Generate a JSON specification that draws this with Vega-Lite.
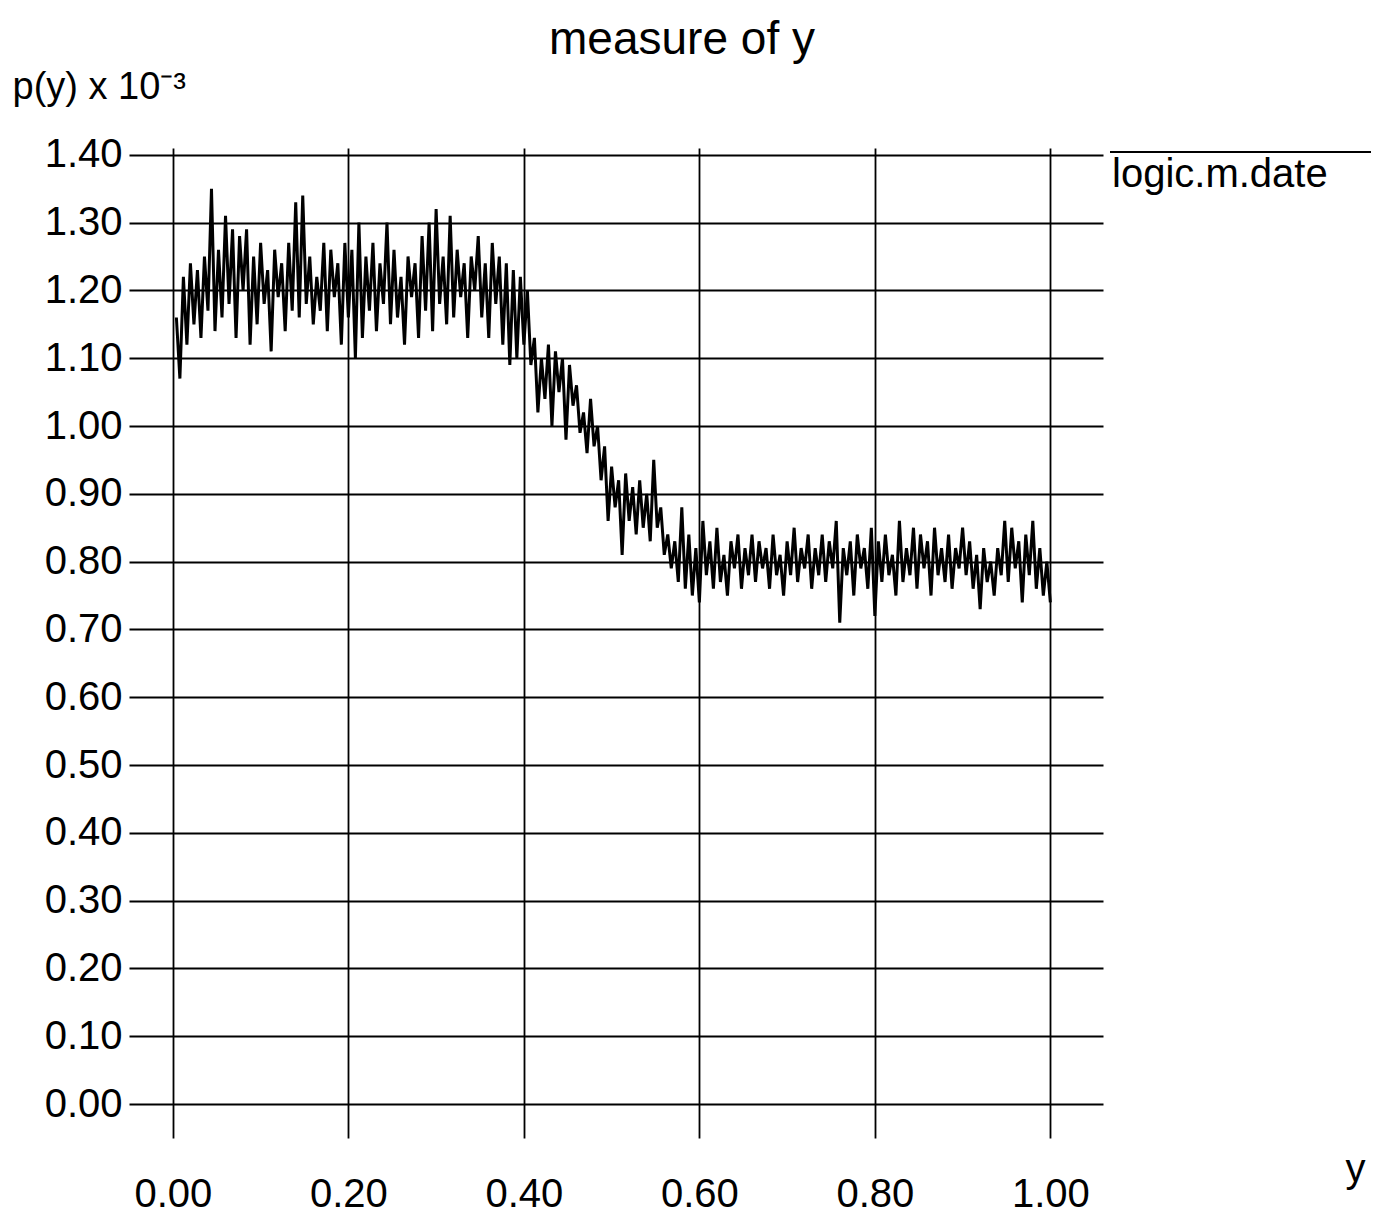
{
  "$schema": "https://vega.github.io/schema/vega-lite/v6.json",
  "autosize": {"type": "none"},
  "width": 974,
  "height": 990,
  "padding": {"left": 129, "top": 148, "right": 272, "bottom": 79},
  "background": "white",
  "config": {
    "font": "Liberation Sans",
    "view": {"stroke": null},
    "axis": {"grid": true, "gridColor": "black", "gridOpacity": 1, "gridWidth": 1.8, "domain": false, "ticks": false, "labelFont": "Liberation Sans", "labelFontSize": 40, "labelColor": "black", "titleFont": "Liberation Sans", "titleColor": "black", "titleFontWeight": "normal", "labelFlush": false, "labelOverlap": false}
  },
  "title": {"text": "measure of y", "fontSize": 46, "font": "Liberation Sans", "fontWeight": "normal", "color": "black", "anchor": "middle", "dx": 66, "dy": 42, "baseline": "alphabetic", "offset": 10},
  "data": {"values": [
    {"x":0.004,"p":1.16},{"x":0.008,"p":1.07},{"x":0.012,"p":1.22},{"x":0.016,"p":1.12},{"x":0.020,"p":1.24},{"x":0.024,"p":1.15},{"x":0.028,"p":1.23},{"x":0.032,"p":1.13},{"x":0.036,"p":1.25},{"x":0.040,"p":1.17},
    {"x":0.044,"p":1.35},{"x":0.048,"p":1.14},{"x":0.052,"p":1.26},{"x":0.056,"p":1.16},{"x":0.060,"p":1.31},{"x":0.064,"p":1.18},{"x":0.068,"p":1.29},{"x":0.072,"p":1.13},{"x":0.076,"p":1.28},{"x":0.080,"p":1.20},
    {"x":0.084,"p":1.29},{"x":0.088,"p":1.12},{"x":0.092,"p":1.25},{"x":0.096,"p":1.15},{"x":0.100,"p":1.27},{"x":0.104,"p":1.18},{"x":0.108,"p":1.23},{"x":0.112,"p":1.11},{"x":0.116,"p":1.26},{"x":0.120,"p":1.19},
    {"x":0.124,"p":1.24},{"x":0.128,"p":1.14},{"x":0.132,"p":1.27},{"x":0.136,"p":1.17},{"x":0.140,"p":1.33},{"x":0.144,"p":1.16},{"x":0.148,"p":1.34},{"x":0.152,"p":1.18},{"x":0.156,"p":1.25},{"x":0.160,"p":1.15},
    {"x":0.164,"p":1.22},{"x":0.168,"p":1.17},{"x":0.172,"p":1.27},{"x":0.176,"p":1.14},{"x":0.180,"p":1.26},{"x":0.184,"p":1.19},{"x":0.188,"p":1.24},{"x":0.192,"p":1.12},{"x":0.196,"p":1.27},{"x":0.200,"p":1.16},
    {"x":0.204,"p":1.26},{"x":0.208,"p":1.10},{"x":0.212,"p":1.30},{"x":0.216,"p":1.13},{"x":0.220,"p":1.25},{"x":0.224,"p":1.17},{"x":0.228,"p":1.27},{"x":0.232,"p":1.14},{"x":0.236,"p":1.24},{"x":0.240,"p":1.18},
    {"x":0.244,"p":1.30},{"x":0.248,"p":1.15},{"x":0.252,"p":1.26},{"x":0.256,"p":1.16},{"x":0.260,"p":1.22},{"x":0.264,"p":1.12},{"x":0.268,"p":1.25},{"x":0.272,"p":1.19},{"x":0.276,"p":1.24},{"x":0.280,"p":1.13},
    {"x":0.284,"p":1.28},{"x":0.288,"p":1.17},{"x":0.292,"p":1.30},{"x":0.296,"p":1.14},{"x":0.300,"p":1.32},{"x":0.304,"p":1.18},{"x":0.308,"p":1.25},{"x":0.312,"p":1.15},{"x":0.316,"p":1.31},{"x":0.320,"p":1.16},
    {"x":0.324,"p":1.26},{"x":0.328,"p":1.19},{"x":0.332,"p":1.24},{"x":0.336,"p":1.13},{"x":0.340,"p":1.25},{"x":0.344,"p":1.20},{"x":0.348,"p":1.28},{"x":0.352,"p":1.16},{"x":0.356,"p":1.24},{"x":0.360,"p":1.13},
    {"x":0.364,"p":1.27},{"x":0.368,"p":1.18},{"x":0.372,"p":1.25},{"x":0.376,"p":1.12},{"x":0.380,"p":1.24},{"x":0.384,"p":1.09},{"x":0.388,"p":1.23},{"x":0.392,"p":1.10},{"x":0.396,"p":1.22},{"x":0.400,"p":1.12},
    {"x":0.404,"p":1.20},{"x":0.408,"p":1.09},{"x":0.412,"p":1.13},{"x":0.416,"p":1.02},{"x":0.420,"p":1.10},{"x":0.424,"p":1.04},{"x":0.428,"p":1.12},{"x":0.432,"p":1.00},{"x":0.436,"p":1.11},{"x":0.440,"p":1.05},
    {"x":0.444,"p":1.10},{"x":0.448,"p":0.98},{"x":0.452,"p":1.09},{"x":0.456,"p":1.03},{"x":0.460,"p":1.06},{"x":0.464,"p":0.99},{"x":0.468,"p":1.02},{"x":0.472,"p":0.96},{"x":0.476,"p":1.04},{"x":0.480,"p":0.97},
    {"x":0.484,"p":1.00},{"x":0.488,"p":0.92},{"x":0.492,"p":0.97},{"x":0.496,"p":0.86},{"x":0.500,"p":0.94},{"x":0.504,"p":0.88},{"x":0.508,"p":0.92},{"x":0.512,"p":0.81},{"x":0.516,"p":0.93},{"x":0.520,"p":0.86},
    {"x":0.524,"p":0.91},{"x":0.528,"p":0.84},{"x":0.532,"p":0.92},{"x":0.536,"p":0.85},{"x":0.540,"p":0.90},{"x":0.544,"p":0.83},{"x":0.548,"p":0.95},{"x":0.552,"p":0.85},{"x":0.556,"p":0.88},{"x":0.560,"p":0.81},
    {"x":0.564,"p":0.84},{"x":0.568,"p":0.79},{"x":0.572,"p":0.83},{"x":0.576,"p":0.77},{"x":0.580,"p":0.88},{"x":0.584,"p":0.76},{"x":0.588,"p":0.84},{"x":0.592,"p":0.75},{"x":0.596,"p":0.82},{"x":0.600,"p":0.74},
    {"x":0.604,"p":0.86},{"x":0.608,"p":0.78},{"x":0.612,"p":0.83},{"x":0.616,"p":0.76},{"x":0.620,"p":0.85},{"x":0.624,"p":0.77},{"x":0.628,"p":0.81},{"x":0.632,"p":0.75},{"x":0.636,"p":0.83},{"x":0.640,"p":0.79},
    {"x":0.644,"p":0.84},{"x":0.648,"p":0.76},{"x":0.652,"p":0.82},{"x":0.656,"p":0.78},{"x":0.660,"p":0.84},{"x":0.664,"p":0.77},{"x":0.668,"p":0.83},{"x":0.672,"p":0.79},{"x":0.676,"p":0.82},{"x":0.680,"p":0.76},
    {"x":0.684,"p":0.84},{"x":0.688,"p":0.78},{"x":0.692,"p":0.81},{"x":0.696,"p":0.75},{"x":0.700,"p":0.83},{"x":0.704,"p":0.78},{"x":0.708,"p":0.85},{"x":0.712,"p":0.77},{"x":0.716,"p":0.82},{"x":0.720,"p":0.79},
    {"x":0.724,"p":0.84},{"x":0.728,"p":0.76},{"x":0.732,"p":0.82},{"x":0.736,"p":0.78},{"x":0.740,"p":0.84},{"x":0.744,"p":0.77},{"x":0.748,"p":0.83},{"x":0.752,"p":0.79},{"x":0.756,"p":0.86},{"x":0.760,"p":0.71},
    {"x":0.764,"p":0.82},{"x":0.768,"p":0.78},{"x":0.772,"p":0.83},{"x":0.776,"p":0.75},{"x":0.780,"p":0.84},{"x":0.784,"p":0.79},{"x":0.788,"p":0.82},{"x":0.792,"p":0.76},{"x":0.796,"p":0.85},{"x":0.800,"p":0.72},
    {"x":0.804,"p":0.83},{"x":0.808,"p":0.77},{"x":0.812,"p":0.84},{"x":0.816,"p":0.78},{"x":0.820,"p":0.81},{"x":0.824,"p":0.75},{"x":0.828,"p":0.86},{"x":0.832,"p":0.77},{"x":0.836,"p":0.82},{"x":0.840,"p":0.78},
    {"x":0.844,"p":0.85},{"x":0.848,"p":0.76},{"x":0.852,"p":0.84},{"x":0.856,"p":0.79},{"x":0.860,"p":0.83},{"x":0.864,"p":0.75},{"x":0.868,"p":0.85},{"x":0.872,"p":0.78},{"x":0.876,"p":0.82},{"x":0.880,"p":0.77},
    {"x":0.884,"p":0.84},{"x":0.888,"p":0.76},{"x":0.892,"p":0.82},{"x":0.896,"p":0.79},{"x":0.900,"p":0.85},{"x":0.904,"p":0.78},{"x":0.908,"p":0.83},{"x":0.912,"p":0.76},{"x":0.916,"p":0.81},{"x":0.920,"p":0.73},
    {"x":0.924,"p":0.82},{"x":0.928,"p":0.77},{"x":0.932,"p":0.80},{"x":0.936,"p":0.75},{"x":0.940,"p":0.82},{"x":0.944,"p":0.78},{"x":0.948,"p":0.86},{"x":0.952,"p":0.77},{"x":0.956,"p":0.85},{"x":0.960,"p":0.79},
    {"x":0.964,"p":0.83},{"x":0.968,"p":0.74},{"x":0.972,"p":0.84},{"x":0.976,"p":0.78},{"x":0.980,"p":0.86},{"x":0.984,"p":0.76},{"x":0.988,"p":0.82},{"x":0.992,"p":0.75},{"x":0.996,"p":0.80},{"x":1.000,"p":0.74}
  ]},
  "mark": {"type": "line", "strokeWidth": 3, "interpolate": "linear"},
  "encoding": {
    "x": {"field": "x", "type": "quantitative",
      "scale": {"domain": [-0.05, 1.06], "nice": false, "zero": false},
      "axis": {"values": [0, 0.2, 0.4, 0.6, 0.8, 1.0], "format": ".2f", "labelPadding": 36, "labelBaseline": "top",
        "title": "y", "titleFontSize": 40, "titleX": 1226, "titleY": 43, "titleAlign": "center", "titleBaseline": "alphabetic", "titleAnchor": null}},
    "y": {"field": "p", "type": "quantitative",
      "scale": {"domain": [-0.05, 1.41], "nice": false, "zero": false},
      "axis": {"values": [0, 0.1, 0.2, 0.3, 0.4, 0.5, 0.6, 0.7, 0.8, 0.9, 1.0, 1.1, 1.2, 1.3, 1.4], "format": ".2f", "labelPadding": 7,
        "title": "p(y) x 10⁻³", "titleFontSize": 38, "titleAngle": 0, "titleX": -117, "titleY": -50, "titleAlign": "left", "titleBaseline": "alphabetic", "titleAnchor": null}},
    "color": {"datum": "logic.m.date", "type": "nominal", "scale": {"range": ["black"]},
      "legend": {"orient": "none", "legendX": 896, "legendY": 4, "title": null, "padding": 47,
        "symbolType": "stroke", "symbolSize": 0, "symbolOpacity": 0, "labelOffset": 0, "labelAlign": "left",
        "labelFont": "Liberation Sans", "labelFontSize": 40, "labelColor": "black", "labelLimit": 0,
        "strokeColor": "black",
        "encode": {
          "legend": {"update": {"strokeDash": {"value": [0, 85, 261, 5000]}, "strokeWidth": {"value": 2}}},
          "labels": {"update": {"dy": {"value": -44}}}
        }}}
  }
}
